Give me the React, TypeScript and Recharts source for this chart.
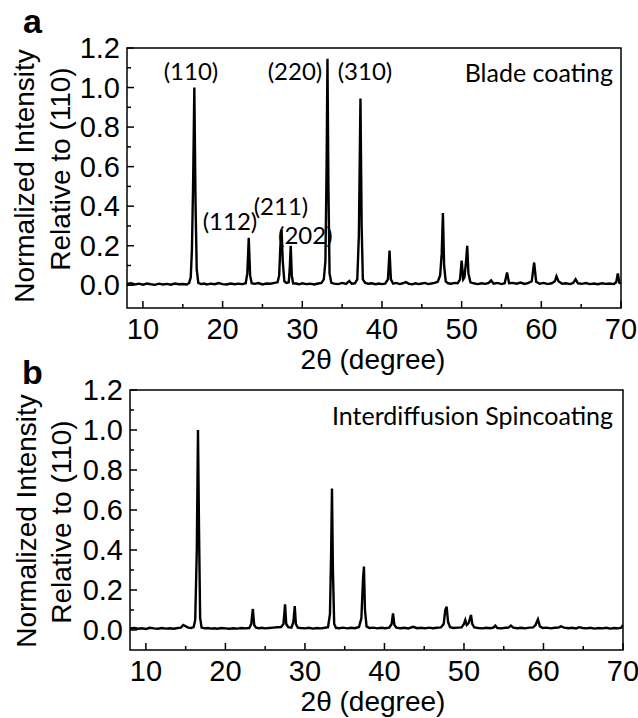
import { LineChart, Line, XAxis, YAxis, ReferenceArea } from "recharts";

// 2-theta ticks (major every 10, minor every 5)
const xTicks = [10, 15, 20, 25, 30, 35, 40, 45, 50, 55, 60, 65, 70];
const yTicks = [0, 0.1, 0.2, 0.3, 0.4, 0.5, 0.6, 0.7, 0.8, 0.9, 1.0, 1.1, 1.2];

const bladePeaks = ["(110)", "(220)", "(310)", "(112)", "(211)", "(202)"];

// [2theta, normalized intensity]
const bladeTrace: [number, number][] = [
  [8, 0.006], [8.5, 0.01], [9, 0.004], [9.5, 0.008], [10, 0.003], [10.5, 0.009], [11, 0.005], [11.5, 0.002],
  [12, 0.008], [12.5, 0.004], [13, 0.007], [13.5, 0.003], [14, 0.009], [14.5, 0.005], [15, 0.006], [15.5, 0.004],
  [15.8, 0.012], [16.0, 0.04], [16.15, 0.18], [16.3, 0.52], [16.45, 1.0], [16.6, 0.42], [16.75, 0.08], [16.95, 0.012],
  [17.3, 0.006], [17.7, 0.009], [18, 0.004], [18.5, 0.008], [19, 0.005], [19.5, 0.011], [20, 0.006], [20.5, 0.004],
  [21, 0.009], [21.5, 0.005], [22, 0.008], [22.5, 0.006], [22.9, 0.01], [23.1, 0.06], [23.28, 0.24], [23.45, 0.05],
  [23.65, 0.01], [24, 0.007], [24.5, 0.011], [25, 0.004], [25.5, 0.009], [26, 0.008], [26.5, 0.012], [26.9, 0.015],
  [27.1, 0.05], [27.25, 0.2], [27.4, 0.28], [27.55, 0.12], [27.75, 0.02], [28.0, 0.012], [28.3, 0.015], [28.42, 0.08],
  [28.55, 0.2], [28.68, 0.05], [28.85, 0.01], [29.2, 0.009], [29.6, 0.005], [30, 0.01], [30.5, 0.006], [31, 0.008],
  [31.5, 0.004], [32, 0.009], [32.4, 0.012], [32.7, 0.03], [32.9, 0.12], [33.05, 0.6], [33.16, 1.145], [33.28, 0.5],
  [33.42, 0.06], [33.65, 0.012], [34, 0.008], [34.5, 0.006], [35, 0.012], [35.5, 0.007], [35.9, 0.022], [36.2, 0.008],
  [36.6, 0.01], [36.9, 0.03], [37.1, 0.25], [37.3, 0.945], [37.45, 0.3], [37.6, 0.03], [37.9, 0.012], [38.3, 0.008],
  [38.7, 0.01], [39.2, 0.005], [39.6, 0.009], [40, 0.006], [40.4, 0.008], [40.75, 0.03], [40.95, 0.175], [41.12, 0.03],
  [41.4, 0.008], [41.8, 0.012], [42.2, 0.006], [42.6, 0.01], [43, 0.016], [43.4, 0.007], [43.8, 0.005], [44.2, 0.01],
  [44.6, 0.006], [45, 0.009], [45.4, 0.012], [45.8, 0.006], [46.2, 0.009], [46.6, 0.012], [47.0, 0.018], [47.3, 0.05],
  [47.5, 0.16], [47.65, 0.365], [47.8, 0.1], [48.0, 0.02], [48.3, 0.01], [48.7, 0.008], [49.1, 0.012], [49.5, 0.01],
  [49.8, 0.03], [50.0, 0.125], [50.2, 0.03], [50.35, 0.04], [50.55, 0.12], [50.7, 0.2], [50.85, 0.06], [51.1, 0.015],
  [51.5, 0.01], [52, 0.006], [52.5, 0.01], [53, 0.007], [53.4, 0.012], [53.7, 0.025], [54, 0.008], [54.5, 0.012],
  [55, 0.006], [55.4, 0.01], [55.7, 0.065], [55.95, 0.01], [56.4, 0.012], [56.9, 0.008], [57.4, 0.014], [57.9, 0.007],
  [58.4, 0.012], [58.8, 0.02], [59.1, 0.115], [59.35, 0.018], [59.8, 0.008], [60.3, 0.012], [60.8, 0.006], [61.3, 0.01],
  [61.7, 0.02], [61.9, 0.045], [62.15, 0.02], [62.6, 0.008], [63.1, 0.01], [63.6, 0.006], [64.0, 0.012], [64.3, 0.03],
  [64.6, 0.01], [65.1, 0.007], [65.6, 0.011], [66.1, 0.006], [66.6, 0.009], [67.1, 0.005], [67.6, 0.01], [68.1, 0.007],
  [68.6, 0.009], [69.1, 0.006], [69.4, 0.015], [69.6, 0.06], [69.8, 0.012], [70, 0.01],
];

// [2theta, normalized intensity]
const spinTrace: [number, number][] = [
  [8, 0.008], [8.5, 0.01], [9, 0.006], [9.5, 0.009], [10, 0.005], [10.5, 0.011], [11, 0.008], [11.5, 0.006],
  [12, 0.01], [12.5, 0.007], [13, 0.009], [13.5, 0.006], [14, 0.01], [14.4, 0.012], [14.7, 0.025], [14.95, 0.02],
  [15.3, 0.012], [15.7, 0.01], [16.0, 0.014], [16.2, 0.05], [16.4, 0.4], [16.55, 1.0], [16.68, 0.5], [16.82, 0.06],
  [17.0, 0.012], [17.4, 0.008], [17.8, 0.01], [18.2, 0.007], [18.6, 0.009], [19, 0.006], [19.5, 0.01], [20, 0.008],
  [20.5, 0.006], [21, 0.009], [21.5, 0.007], [22, 0.01], [22.5, 0.008], [23.0, 0.01], [23.25, 0.03], [23.45, 0.105],
  [23.62, 0.025], [23.85, 0.012], [24.2, 0.009], [24.6, 0.011], [25, 0.008], [25.5, 0.01], [26, 0.012], [26.5, 0.014],
  [27, 0.015], [27.3, 0.03], [27.5, 0.128], [27.65, 0.03], [27.9, 0.014], [28.3, 0.012], [28.55, 0.04], [28.72, 0.12],
  [28.86, 0.03], [29.1, 0.012], [29.5, 0.01], [30, 0.008], [30.5, 0.011], [31, 0.007], [31.5, 0.01], [32, 0.008],
  [32.5, 0.011], [32.9, 0.014], [33.15, 0.08], [33.3, 0.4], [33.4, 0.708], [33.52, 0.3], [33.68, 0.03], [33.9, 0.011],
  [34.3, 0.009], [34.8, 0.012], [35.3, 0.008], [35.8, 0.011], [36.3, 0.009], [36.8, 0.015], [37.1, 0.06], [37.3, 0.25],
  [37.42, 0.317], [37.55, 0.1], [37.75, 0.018], [38.1, 0.01], [38.6, 0.012], [39.1, 0.008], [39.6, 0.011], [40.1, 0.009],
  [40.6, 0.012], [40.9, 0.03], [41.08, 0.083], [41.25, 0.025], [41.5, 0.012], [42, 0.009], [42.5, 0.011], [43, 0.008],
  [43.6, 0.016], [44.1, 0.009], [44.6, 0.011], [45.1, 0.008], [45.6, 0.012], [46.1, 0.009], [46.6, 0.011], [47.1, 0.013],
  [47.45, 0.03], [47.65, 0.1], [47.82, 0.117], [48.0, 0.04], [48.25, 0.014], [48.7, 0.01], [49.2, 0.012], [49.7, 0.013],
  [50.0, 0.03], [50.17, 0.05], [50.35, 0.025], [50.6, 0.035], [50.88, 0.075], [51.05, 0.03], [51.3, 0.013], [51.8, 0.01],
  [52.3, 0.008], [52.8, 0.011], [53.3, 0.009], [53.7, 0.012], [53.94, 0.022], [54.2, 0.01], [54.7, 0.008], [55.2, 0.011],
  [55.6, 0.012], [55.9, 0.022], [56.2, 0.012], [56.7, 0.009], [57.2, 0.011], [57.7, 0.008], [58.2, 0.012], [58.7, 0.013],
  [59.0, 0.025], [59.3, 0.053], [59.55, 0.018], [59.9, 0.01], [60.4, 0.012], [60.9, 0.008], [61.4, 0.011], [61.9, 0.012],
  [62.2, 0.018], [62.6, 0.012], [63.1, 0.009], [63.6, 0.011], [64.1, 0.008], [64.5, 0.014], [64.9, 0.01], [65.4, 0.008],
  [65.9, 0.011], [66.4, 0.007], [66.9, 0.01], [67.4, 0.008], [67.9, 0.011], [68.4, 0.007], [68.9, 0.01], [69.4, 0.008],
  [69.8, 0.012], [70, 0.025],
];

const ARIAL = "'Liberation Sans', Arial, sans-serif";
const CALIBRI = "Lato, 'Open Sans', sans-serif";

const XTick = (props: any) => {
  const { x, y, payload } = props;
  const major = payload.value % 10 === 0;
  return (
    <g>
      <line x1={x} x2={x} y1={y} y2={y - (major ? 7 : 4)} stroke="#000" strokeWidth={1.5} />
      {major && (
        <text x={x} y={y + 31} textAnchor="middle" fontSize={29} fontFamily={ARIAL} fill="#000">
          {payload.value}
        </text>
      )}
    </g>
  );
};

const YTick = (props: any) => {
  const { x, y, payload } = props;
  const major = Math.round(payload.value * 10) % 2 === 0;
  return (
    <g>
      <line x1={x} x2={x + (major ? 7 : 4)} y1={y} y2={y} stroke="#000" strokeWidth={1.5} />
      {major && (
        <text x={x - 7} y={y + 10} textAnchor="end" fontSize={29} fontFamily={ARIAL} fill="#000">
          {payload.value.toFixed(1)}
        </text>
      )}
    </g>
  );
};

type PanelProps = {
  trace: [number, number][];
  yMin: number;
  height: number;
  top: number;
  right: number;
  axisWidth: number;
  axisHeight: number;
};

const Panel = ({ trace, yMin, height, top, right, axisWidth, axisHeight }: PanelProps) => {
  const data = trace.map(([x, y]) => ({ x, y }));
  return (
    <LineChart width={638} height={height} data={data} margin={{ top, right, bottom: 0, left: 0 }}>
      <XAxis
        dataKey="x"
        type="number"
        domain={[8, 70]}
        ticks={xTicks}
        interval={0}
        allowDataOverflow
        axisLine={false}
        tickLine={false}
        tickSize={0}
        tickMargin={0}
        height={axisHeight}
        tick={<XTick />}
      />
      <YAxis
        type="number"
        domain={[yMin, 1.2]}
        ticks={yTicks}
        interval={0}
        allowDataOverflow
        axisLine={false}
        tickLine={false}
        tickSize={0}
        tickMargin={0}
        width={axisWidth}
        tick={<YTick />}
      />
      <ReferenceArea x1={8} x2={70} y1={yMin} y2={1.2} fill="none" stroke="#000" strokeWidth={1.5} />
      <Line dataKey="y" type="linear" stroke="#000" strokeWidth={2.4} dot={false} isAnimationActive={false} />
    </LineChart>
  );
};

const App = () => {
  return (
    <div style={{ position: "absolute", left: 0, top: 0, width: 638, height: 718, background: "#fff" }}>
      <div style={{ position: "absolute", left: 0, top: 0 }}>
        <Panel trace={bladeTrace} yMin={-0.115} height={360} top={48} right={17} axisWidth={127} axisHeight={52} />
      </div>
      <div style={{ position: "absolute", left: 0, top: 360 }}>
        <Panel trace={spinTrace} yMin={-0.1} height={358} top={30} right={15} axisWidth={130} axisHeight={68} />
      </div>
      <svg width={638} height={718} style={{ position: "absolute", left: 0, top: 0, pointerEvents: "none" }}>
        {/* panel a */}
        <text x={23} y={33} fontSize={34} fontWeight="bold" fontFamily={ARIAL}>a</text>
        <text x={34} y={176} fontSize={28} fontFamily={ARIAL} textAnchor="middle" transform="rotate(-90, 34, 176)">
          Normalized Intensity
        </text>
        <text x={70} y={169} fontSize={28} fontFamily={ARIAL} textAnchor="middle" transform="rotate(-90, 70, 169)">
          Relative to (110)
        </text>
        <text x={191} y={80} fontSize={24} fontFamily={CALIBRI} textAnchor="middle">{bladePeaks[0]}</text>
        <text x={295} y={80} fontSize={24} fontFamily={CALIBRI} textAnchor="middle">{bladePeaks[1]}</text>
        <text x={365} y={80} fontSize={24} fontFamily={CALIBRI} textAnchor="middle">{bladePeaks[2]}</text>
        <text x={230} y={230} fontSize={24} fontFamily={CALIBRI} textAnchor="middle">{bladePeaks[3]}</text>
        <text x={281} y={215} fontSize={24} fontFamily={CALIBRI} textAnchor="middle">{bladePeaks[4]}</text>
        <text x={278} y={244} fontSize={24} fontFamily={CALIBRI}>{bladePeaks[5]}</text>
        <text x={613} y={82} fontSize={25} fontFamily={CALIBRI} textAnchor="end">Blade coating</text>
        <text x={373} y={369} fontSize={28} fontFamily={ARIAL} textAnchor="middle">2θ (degree)</text>
        {/* panel b */}
        <text x={22} y={384} fontSize={34} fontWeight="bold" fontFamily={ARIAL}>b</text>
        <text x={36} y={521} fontSize={28} fontFamily={ARIAL} textAnchor="middle" transform="rotate(-90, 36, 521)">
          Normalized Intensity
        </text>
        <text x={71} y={522} fontSize={28} fontFamily={ARIAL} textAnchor="middle" transform="rotate(-90, 71, 522)">
          Relative to (110)
        </text>
        <text x={613} y={425} fontSize={25} fontFamily={CALIBRI} textAnchor="end">Interdiffusion Spincoating</text>
        <text x={373} y={711} fontSize={28} fontFamily={ARIAL} textAnchor="middle">2θ (degree)</text>
      </svg>
    </div>
  );
};

export default App;
